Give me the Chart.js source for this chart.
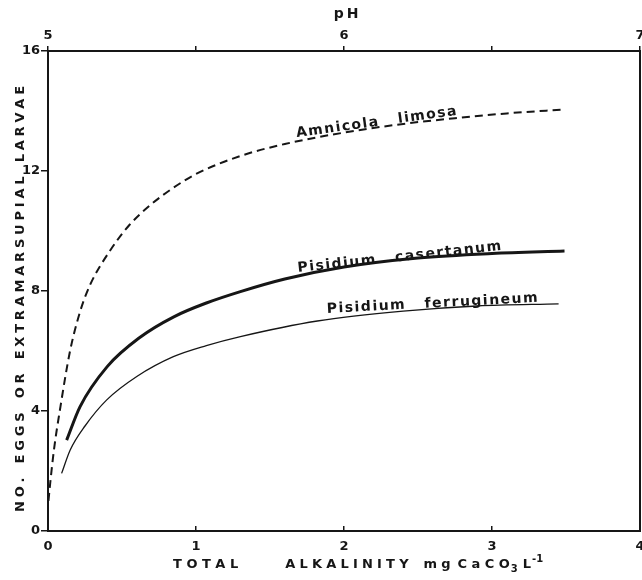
<!DOCTYPE html>
<html>
<head>
<meta charset="utf-8">
<script src="https://cdn.jsdelivr.net/npm/chart.js@4"></script>
<style>
html, body { margin: 0; padding: 0; background: #fff; }
canvas { display: block; }
</style>
</head>
<body>
<canvas id="chart" width="642" height="580"></canvas>
<script>
// ticks of the three axes
const alkTicks = [0, 1, 2, 3, 4];
const phTicks = [5, 5.5, 6, 6.5, 7];
const phLabels = ['5', '', '6', '', '7'];
const eggTicks = [0, 4, 8, 12, 16];

// curves: total alkalinity (mg CaCO3/L) -> no. of eggs / larvae
const amnicolaX = [0.003, 0.015, 0.04, 0.081, 0.149, 0.216, 0.284, 0.42, 0.55, 0.7, 0.85, 1.0, 1.3, 1.6, 2.0, 2.4, 2.75, 3.1, 3.49];
const amnicolaY = [1.0, 1.6, 2.7, 4.05, 6.0, 7.3, 8.2, 9.35, 10.2, 10.9, 11.45, 11.9, 12.5, 12.9, 13.28, 13.57, 13.76, 13.92, 14.05];

const casertanumX = [0.126, 0.216, 0.4, 0.62, 0.85, 1.07, 1.3, 1.6, 2.0, 2.5, 3.0, 3.49];
const casertanumY = [3.03, 4.14, 5.48, 6.45, 7.14, 7.6, 7.98, 8.4, 8.8, 9.1, 9.25, 9.33];

const ferrugineumX = [0.092, 0.15, 0.25, 0.397, 0.6, 0.847, 1.07, 1.3, 1.82, 2.4, 2.9, 3.45];
const ferrugineumY = [1.92, 2.7, 3.5, 4.37, 5.15, 5.81, 6.18, 6.48, 7.0, 7.33, 7.5, 7.57];

// curve names, written along the curves (start point in data units, angle in degrees)
const curveLabels = [
  { text: 'Amnicola limosa', x: 1.68, y: 13.13, angle: 7.9 },
  { text: 'Pisidium casertanum', x: 1.69, y: 8.63, angle: 6.2 },
  { text: 'Pisidium ferrugineum', x: 1.885, y: 7.27, angle: 3.0 }
];

const yTitle = 'NO. EGGS OR EXTRAMARSUPIAL LARVAE';
const topTitle = 'pH';

const INK = '#161616';
const FONT = '"DejaVu Sans", Verdana, sans-serif';

function toPoints(xs, ys) {
  return xs.map((x, i) => ({ x: x, y: ys[i] }));
}

// canvas text with extra letter spacing (sp) and word spacing (ws), char by char
function spacedWidth(ctx, text, sp, ws) {
  let w = 0;
  for (const ch of text) w += ctx.measureText(ch).width + sp + (ch === ' ' ? (ws || 0) : 0);
  return w - sp;
}
function drawSpaced(ctx, text, x, y, sp, ws) {
  for (const ch of text) {
    ctx.fillText(ch, x, y);
    x += ctx.measureText(ch).width + sp + (ch === ' ' ? (ws || 0) : 0);
  }
  return x - sp;
}

const textPlugin = {
  id: 'figureText',
  afterDraw(chart) {
    const ctx = chart.ctx;
    const xs = chart.scales.x, x2 = chart.scales.x2, ys = chart.scales.y;
    const area = chart.chartArea;
    ctx.save();
    ctx.fillStyle = INK;
    ctx.textBaseline = 'alphabetic';

    // species names
    ctx.font = 'bold 14px ' + FONT;
    curveLabels.forEach(l => {
      ctx.save();
      ctx.translate(xs.getPixelForValue(l.x), ys.getPixelForValue(l.y));
      ctx.rotate(-l.angle * Math.PI / 180);
      drawSpaced(ctx, l.text, 0, 0, 1.5, 12);
      ctx.restore();
    });

    // left title
    ctx.font = 'bold 13px ' + FONT;
    ctx.save();
    ctx.translate(24, (area.top + area.bottom) / 2 + 8);
    ctx.rotate(-Math.PI / 2);
    const w = spacedWidth(ctx, yTitle, 3.8, 2);
    drawSpaced(ctx, yTitle, -w / 2, 0, 3.8, 2);
    ctx.restore();

    // top title
    ctx.font = 'bold 14px ' + FONT;
    const tw = spacedWidth(ctx, topTitle, 3);
    drawSpaced(ctx, topTitle, x2.getPixelForValue(6) - tw / 2 + 2, 18, 3);

    // bottom title: TOTAL   ALKALINITY  mg CaCO3 L-1
    const parts = [
      { t: 'TOTAL', size: 13, dy: 0, gap: 0, sp: 4.5 },
      { t: 'ALKALINITY', size: 13, dy: 0, gap: 47, sp: 4.2 },
      { t: 'mg', size: 13, dy: 0, gap: 15, sp: 4 },
      { t: 'CaCO', size: 13, dy: 0, gap: 7, sp: 4.5 },
      { t: '3', size: 10, dy: 4, gap: 1, sp: 0 },
      { t: 'L', size: 13, dy: 0, gap: 5, sp: 0 },
      { t: '-1', size: 10, dy: -6, gap: 1, sp: 0 }
    ];
    let x = xs.getPixelForValue(0.845);
    const y = 568;
    parts.forEach(p => {
      ctx.font = 'bold ' + p.size + 'px ' + FONT;
      x = drawSpaced(ctx, p.t, x + p.gap, y + p.dy, p.sp);
    });
    ctx.restore();
  }
};

const tickFont = { family: FONT, size: 13, weight: 'bold' };

new Chart(document.getElementById('chart'), {
  type: 'line',
  data: {
    datasets: [
      {
        label: 'Amnicola limosa',
        data: toPoints(amnicolaX, amnicolaY),
        borderColor: INK, borderWidth: 2, borderDash: [8, 5]
      },
      {
        label: 'Pisidium casertanum',
        data: toPoints(casertanumX, casertanumY),
        borderColor: INK, borderWidth: 3
      },
      {
        label: 'Pisidium ferrugineum',
        data: toPoints(ferrugineumX, ferrugineumY),
        borderColor: INK, borderWidth: 1.3
      }
    ]
  },
  options: {
    responsive: false,
    devicePixelRatio: 1,
    animation: false,
    layout: { padding: 0 },
    elements: {
      point: { radius: 0 },
      line: { fill: false, cubicInterpolationMode: 'monotone' }
    },
    plugins: { legend: { display: false }, tooltip: { enabled: false } },
    scales: {
      x: {
        type: 'linear', position: 'bottom', min: 0, max: 4,
        afterBuildTicks: s => { s.ticks = alkTicks.map(v => ({ value: v })); },
        ticks: { font: tickFont, color: INK, padding: 13, maxRotation: 0 },
        grid: { drawOnChartArea: false, tickLength: -5, color: INK, lineWidth: 1.5 },
        border: { color: INK, width: 2 },
        afterFit: s => { s.height = 49; s.paddingLeft = 0; s.paddingRight = 0; }
      },
      x2: {
        type: 'linear', position: 'top', min: 5, max: 7,
        afterBuildTicks: s => { s.ticks = phTicks.map(v => ({ value: v })); },
        ticks: { font: tickFont, color: INK, padding: 3, maxRotation: 0, callback: (v, i) => phLabels[i] },
        grid: { drawOnChartArea: false, tickLength: 5, color: INK, lineWidth: 1.5 },
        border: { color: INK, width: 2 },
        afterFit: s => { s.height = 51; s.paddingLeft = 0; s.paddingRight = 0; }
      },
      y: {
        type: 'linear', position: 'left', min: 0, max: 16,
        afterBuildTicks: s => { s.ticks = eggTicks.map(v => ({ value: v })); },
        ticks: { font: tickFont, color: INK, padding: 1 },
        grid: { drawOnChartArea: false, tickLength: 7, color: INK, lineWidth: 1.5 },
        border: { color: INK, width: 2 },
        afterFit: s => { s.width = 48; s.paddingTop = 0; s.paddingBottom = 0; }
      },
      y2: {
        type: 'linear', position: 'right', min: 0, max: 16,
        ticks: { display: false },
        grid: { drawOnChartArea: false, drawTicks: false },
        border: { color: INK, width: 2 },
        afterFit: s => { s.width = 2; s.paddingTop = 0; s.paddingBottom = 0; }
      }
    }
  },
  plugins: [textPlugin]
});
</script>
</body>
</html>
